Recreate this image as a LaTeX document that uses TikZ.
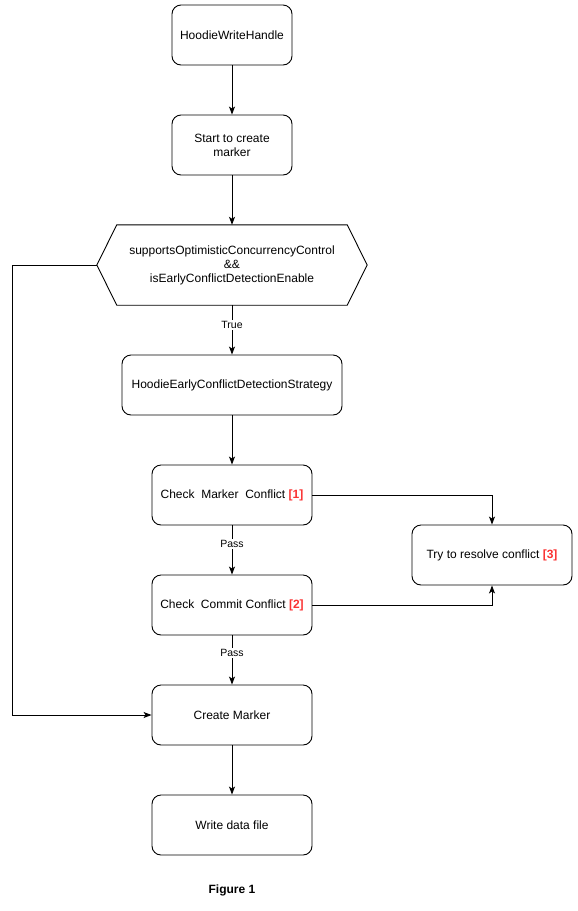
\documentclass[tikz,border=0pt]{standalone}
\usepackage{fontspec}
\setmainfont{Liberation Sans}
\usetikzlibrary{arrows.meta}
\definecolor{conflictRed}{RGB}{250,50,50}

\begin{document}
\begin{tikzpicture}[x=1pt, y=-1pt]
  % Styles
  \tikzstyle{stepbox} = [rectangle, draw, line width=0.9pt, rounded corners=9pt, minimum width=160pt, minimum height=60pt, align=center, font=\fontsize{12}{14}\selectfont]
  \tikzstyle{arrow} = [-{Stealth[length=8pt,width=6pt,inset=2pt]}, line width=0.9pt]
  \tikzstyle{tag} = [fill=white, inner sep=1.5pt, font=\fontsize{10.5}{12}\selectfont]
  \newcommand{\noteref}[1]{\textcolor{conflictRed}{\textbf{[#1]}}}

  \useasboundingbox (0,0) rectangle (578,911);

  % Nodes
  \node[stepbox, minimum width=120pt] (handle) at (232, 35) {HoodieWriteHandle};
  \node[stepbox, minimum width=120pt] (start) at (232, 145) {Start to create\\marker};
  \node[minimum width=270pt, minimum height=80pt, align=center, font=\fontsize{12}{14}\selectfont] (cond) at (232, 265)
    {supportsOptimisticConcurrencyControl\\\&\&\\isEarlyConflictDetectionEnable};
  \draw[line width=0.9pt] (cond.west) -- ([xshift=20pt]cond.north west) -- ([xshift=-20pt]cond.north east)
    -- (cond.east) -- ([xshift=-20pt]cond.south east) -- ([xshift=20pt]cond.south west) -- cycle;
  \node[stepbox, minimum width=220pt] (strategy) at (232, 385) {HoodieEarlyConflictDetectionStrategy};
  \node[stepbox] (marker) at (232, 495) {Check~~Marker~~Conflict \noteref{1}};
  \node[stepbox] (commit) at (232, 605) {Check~~Commit Conflict \noteref{2}};
  \node[stepbox] (resolve) at (492, 555) {Try to resolve conflict \noteref{3}};
  \node[stepbox] (create) at (232, 715) {Create Marker};
  \node[stepbox] (write) at (232, 825) {Write data file};

  % Caption
  \node[font=\fontsize{12}{14}\selectfont\bfseries] (caption) at (232, 890) {Figure 1};

  % Arrows
  \draw[arrow] (handle) -- (start);
  \draw[arrow] (start) -- (cond);
  \draw[arrow] (cond) -- node[tag, pos=0.4] {True} (strategy);
  \draw[arrow] (strategy) -- (marker);
  \draw[arrow] (marker) -- node[tag, pos=0.38] {Pass} (commit);
  \draw[arrow] (commit) -- node[tag, pos=0.36] {Pass} (create);
  \draw[arrow] (create) -- (write);
  \draw[arrow] (marker.east) -| (resolve.north);
  \draw[arrow] (commit.east) -| (resolve.south);
  \draw[arrow] (cond.west) -- (12, 265) |- (create.west);
\end{tikzpicture}
\end{document}
